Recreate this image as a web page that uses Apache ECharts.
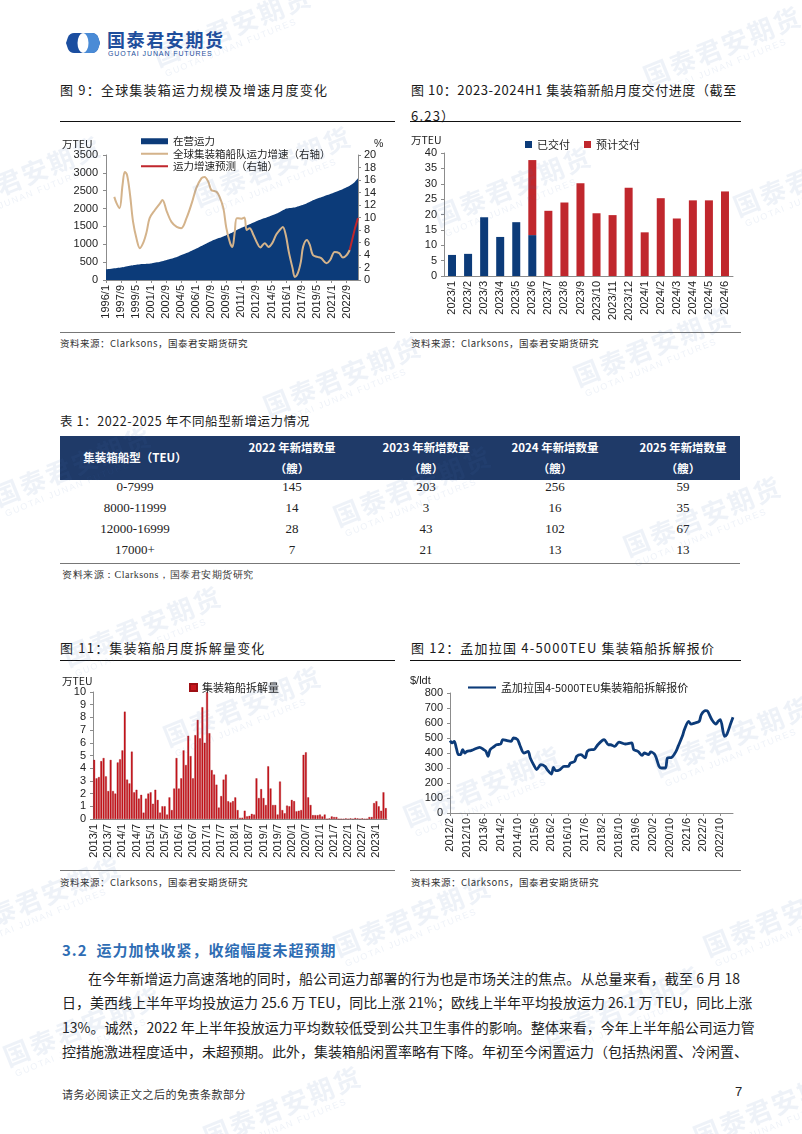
<!DOCTYPE html>
<html><head><meta charset="utf-8">
<script src="https://cdn.jsdelivr.net/npm/echarts@6/dist/echarts.min.js"></script>
<style>
body{margin:0;background:#fff;}
#page{position:relative;width:802px;height:1134px;overflow:hidden;background:#fff;font-family:"Noto Sans CJK SC","Noto Sans",sans-serif;color:#1a1a1a;}
.abs{position:absolute;white-space:nowrap;}
.title{font-size:13px;letter-spacing:1.2px;line-height:16px;}
.rule{position:absolute;height:1px;background:#111;}
.srule{position:absolute;height:1px;background:#777;}
.src{position:absolute;font-size:9.5px;color:#333;letter-spacing:0.5px;white-space:nowrap;}
.chart{position:absolute;}
.th{position:absolute;color:#fff;font-weight:bold;font-size:11.5px;text-align:center;width:140px;white-space:nowrap;}
.td{position:absolute;font-family:"Liberation Serif","Times New Roman",serif;font-size:13px;color:#222;text-align:center;width:120px;}
.para{position:absolute;left:62px;width:678px;font-size:14px;line-height:18px;text-align:justify;text-align-last:justify;color:#222;white-space:nowrap;}
#wm{position:absolute;left:0;top:0;width:802px;height:1134px;pointer-events:none;z-index:5;}
.wmk{position:absolute;transform:rotate(-22deg);color:rgba(70,115,180,0.09);white-space:nowrap;}
.wmk b{font-size:26px;letter-spacing:2px;display:block;line-height:30px;}
.wmk i{font-style:normal;font-size:9px;letter-spacing:1.5px;display:block;line-height:10px;padding-left:4px;font-family:'Liberation Sans',Arial;}
</style></head>
<body><div id="page">

<!-- header logo -->
<svg class="abs" style="left:65px;top:32px" width="36" height="22" viewBox="0 0 36 22">
  <path d="M9,1 H27 Q31,1 33,5 L35,11 L33,17 Q31,21 27,21 H9 Q5,21 3,17 L1,11 L3,5 Q5,1 9,1Z" fill="#1B4EA0"/>
  <path d="M18,1 H27 Q31,1 33,5 L35,11 L33,17 Q31,21 27,21 H18Z" fill="#4A8BD6"/>
  <ellipse cx="18" cy="11" rx="5.5" ry="10" fill="#fff"/>
</svg>
<div class="abs" style="left:107px;top:29px;font-size:18px;font-weight:bold;color:#1E4E9C;letter-spacing:1.6px;line-height:20px;">国泰君安期货</div>
<div class="abs" style="left:108px;top:50px;font-size:7px;color:#1E4E9C;letter-spacing:0.9px;line-height:8px;font-family:'Liberation Sans',Arial;">GUOTAI JUNAN FUTURES</div>

<!-- chart titles -->
<div class="abs title" style="left:60px;top:82px;">图 9：全球集装箱运力规模及增速月度变化</div>
<div class="abs title" style="left:411px;top:82px;letter-spacing:0.6px;">图 10：2023-2024H1 集装箱新船月度交付进度（截至</div>
<div class="abs title" style="left:411px;top:108px;">6.23）</div>
<div class="rule" style="left:60px;top:121px;width:335px;"></div>
<div class="rule" style="left:410px;top:121px;width:331px;"></div>

<div id="c9" class="chart" style="left:60px;top:125px;width:340px;height:205px;"></div>
<div id="c10" class="chart" style="left:405px;top:125px;width:340px;height:205px;"></div>

<div class="srule" style="left:60px;top:332px;width:335px;"></div>
<div class="srule" style="left:410px;top:332px;width:331px;"></div>
<div class="src" style="left:60px;top:336px;">资料来源：Clarksons，国泰君安期货研究</div>
<div class="src" style="left:411px;top:336px;">资料来源：Clarksons，国泰君安期货研究</div>

<!-- table -->
<div class="abs title" style="left:60px;top:413px;font-size:12.5px;letter-spacing:0.6px;">表 1：2022-2025 年不同船型新增运力情况</div>

<!-- charts 11 12 -->
<div class="abs title" style="left:60px;top:640px;">图 11：集装箱船月度拆解量变化</div>
<div class="abs title" style="left:411px;top:640px;">图 12：孟加拉国 4-5000TEU 集装箱船拆解报价</div>
<div class="rule" style="left:60px;top:660px;width:335px;"></div>
<div class="rule" style="left:410px;top:660px;width:331px;"></div>

<div id="c11" class="chart" style="left:60px;top:665px;width:340px;height:205px;"></div>
<div id="c12" class="chart" style="left:405px;top:665px;width:340px;height:205px;"></div>

<div class="srule" style="left:60px;top:870px;width:335px;"></div>
<div class="srule" style="left:410px;top:870px;width:331px;"></div>
<div class="src" style="left:60px;top:875px;">资料来源：Clarksons，国泰君安期货研究</div>
<div class="src" style="left:411px;top:875px;">资料来源：Clarksons，国泰君安期货研究</div>

<!-- text -->
<div class="abs" style="left:62px;top:940px;font-size:15px;font-weight:bold;color:#2E6DB4;letter-spacing:1px;line-height:20px;">3.2&nbsp;&nbsp;运力加快收紧，收缩幅度未超预期</div>
<div class="para" style="top:969px;left:88px;width:652px;">在今年新增运力高速落地的同时，船公司运力部署的行为也是市场关注的焦点。从总量来看，截至 6 月 18</div>
<div class="para" style="top:993px;">日，美西线上半年平均投放运力 25.6 万 TEU，同比上涨 21%；欧线上半年平均投放运力 26.1 万 TEU，同比上涨</div>
<div class="para" style="top:1018px;">13%。诚然，2022 年上半年投放运力平均数较低受到公共卫生事件的影响。整体来看，今年上半年船公司运力管</div>
<div class="para" style="top:1042px;">控措施激进程度适中，未超预期。此外，集装箱船闲置率略有下降。年初至今闲置运力（包括热闲置、冷闲置、</div>

<div class="abs" style="left:62px;top:1086px;font-size:11px;color:#333;letter-spacing:0.5px;">请务必阅读正文之后的免责条款部分</div>
<div class="abs" style="left:735px;top:1084px;font-size:13px;color:#222;font-family:'Liberation Sans',Arial;">7</div>

<div id="wm"></div>
</div>
<script>
// ---------- DATA ----------
function monthLabels(y, m, n) { const a = []; for (let i = 0; i < n; i++) { a.push(y + '/' + m); m++; if (m > 12) { m = 1; y++; } } return a; }

// Fig 9: months since 1996/1
const fig9Months = monthLabels(1996, 1, 336);
const fleetCapacity = [[0,300],[12,330],[24,365],[36,410],[48,445],[60,465],[72,510],[84,580],[96,660],[108,760],[120,880],[132,1010],[144,1130],[156,1220],[168,1330],[180,1460],[192,1570],[204,1680],[216,1770],[228,1870],[240,2000],[252,2040],[264,2120],[276,2240],[288,2330],[300,2420],[312,2520],[324,2640],[330,2730],[335,2850]];
const fleetGrowth = [[11,13.3],[14,12.3],[18,11.5],[22,15.2],[25,17.3],[28,16.8],[32,13.6],[36,9.3],[41,6.4],[45,5.1],[50,6.1],[54,7.7],[58,9.9],[65,11.2],[72,12.3],[75,12.8],[81,10.9],[87,9.3],[94,8.5],[100,8.3],[107,9.9],[114,12.3],[120,14.7],[127,16.3],[131,16.5],[136,15.7],[140,14.4],[147,14.1],[151,13.3],[156,11.5],[160,8.3],[165,5.9],[168,5.3],[171,7.5],[174,9.9],[180,9.8],[184,10],[187,8],[191,8.3],[196,7.2],[201,5.9],[205,5.2],[211,5.9],[216,5.3],[221,5.9],[226,7.2],[231,8],[235,8.5],[239,7.2],[243,4.5],[248,1.9],[251,0.5],[255,1.1],[259,2.9],[262,5.3],[267,6.4],[271,5.6],[275,4],[281,3.7],[286,3.5],[293,2.7],[298,3.2],[304,4.5],[310,4.3],[315,3.6],[320,4],[324,4.8]];
const growthForecast = [[324,4.8],[328,6.8],[331,8.3],[335,9.9]];

// Fig 10
const fig10Months = ['2023/1','2023/2','2023/3','2023/4','2023/5','2023/6','2023/7','2023/8','2023/9','2023/10','2023/11','2023/12','2024/1','2024/2','2024/3','2024/4','2024/5','2024/6'];
const delivered = [6.85,7.2,19.1,12.7,17.5,13.3,'-','-','-','-','-','-','-','-','-','-','-','-'];
const expected = ['-','-','-','-','-',24.4,21.2,23.9,30.2,20.4,19.8,28.7,14.2,25.3,18.7,24.6,24.6,27.5];

// Table 1
const tableHeaders = ['2022 年新增数量', '2023 年新增数量', '2024 年新增数量', '2025 年新增数量'];
const shipSizes = ['0-7999', '8000-11999', '12000-16999', '17000+'];
const added2022 = [145, 14, 28, 7];
const added2023 = [203, 3, 43, 21];
const added2024 = [256, 16, 102, 13];
const added2025 = [59, 35, 67, 13];

// Fig 11: monthly from 2013/1
const fig11Months = monthLabels(2013, 1, 125);
const demolition = [4.65,3.2,3.3,4.55,4.8,3.35,2.2,4.65,2.2,2.0,4.45,4.7,5.4,8.45,3.1,2.8,5.3,2.1,2.3,1.6,1.9,0.5,1.6,2.0,2.1,1.2,2.3,1.5,0.5,1.0,1.0,0.35,1.7,0.7,2.4,4.8,2.4,3.2,5.4,4.25,6.55,4.95,3.2,6.6,7.8,6.35,8.8,6.0,10.0,6.75,3.85,3.5,2.7,0.9,1.8,3.1,3.5,1.4,1.3,1.4,1.7,0.7,0.1,0.1,0.65,0.2,0.25,0.4,0.35,3.2,1.65,2.35,1.65,1.1,4.15,2.4,1.1,1.1,0.35,2.95,0.7,0.45,1.05,1.0,1.5,1.4,0.6,0.65,0.7,5.05,5.25,1.7,1.1,0.3,0.3,0.3,0.35,0.2,0.35,0,0.05,0.2,0.15,0.15,0,0,0,0.05,0,0.05,0,0.08,0.05,0,0.05,0,0,0.15,0.15,1.25,1.4,1.0,0.65,2.1,0.85];

// Fig 12: monthly from 2012/2
const fig12Months = monthLabels(2012, 2, 135);
const scrapPrice = [[0,482],[1,467],[2,478],[3,433],[4,389],[5,389],[6,422],[7,400],[8,411],[10,416],[11,422],[13,433],[14,438],[16,422],[17,411],[18,378],[19,422],[21,444],[22,455],[24,460],[25,489],[27,482],[29,478],[30,500],[32,489],[33,455],[35,400],[37,411],[38,367],[40,311],[41,289],[43,322],[45,311],[46,289],[48,260],[49,304],[50,282],[52,289],[54,311],[56,311],[57,333],[59,344],[60,378],[62,389],[64,367],[65,411],[67,422],[68,422],[70,455],[72,482],[73,489],[75,455],[76,455],[78,444],[80,473],[83,460],[86,467],[87,422],[89,411],[91,384],[92,400],[94,389],[95,407],[97,389],[99,311],[100,300],[102,300],[103,367],[105,371],[107,411],[108,444],[110,511],[111,556],[113,611],[114,593],[116,600],[118,611],[119,656],[121,682],[122,678],[124,622],[126,593],[127,611],[128,622],[130,511],[131,522],[133,600],[134,638]];

// ---------- STYLE HELPERS ----------
const NAVY = '#0C3B79', RED = '#C0272D', BEIGE = '#D4B38B';
const LAT = "'Liberation Sans', Arial, sans-serif";
const CJK = "'Noto Sans CJK SC', sans-serif";
const LINE_ICON = 'path://M0,0H40V3H0Z';
const axisLine = { show: true, lineStyle: { color: '#8c8c8c', width: 1 } };
const tick = { show: true, length: 3, lineStyle: { color: '#8c8c8c' } };
const plain = v => String(v);
const lbl = { fontSize: 11, color: '#222', fontFamily: LAT };
const ylbl = (m) => Object.assign({}, lbl, { margin: m, formatter: plain });

function mk(id) { return echarts.init(document.getElementById(id), null, { renderer: 'canvas' }); }

// ---------- Fig 9 ----------
mk('c9').setOption({
  animation: false,
  grid: { left: 46, right: 42, top: 30, bottom: 50 },
  legend: {
    orient: 'vertical', left: 76, top: 6, itemWidth: 27, itemHeight: 6, itemGap: 2, symbolKeepAspect: true,
    textStyle: { fontSize: 10.5, fontFamily: CJK, color: '#222' },
    data: [{ name: '在营运力', icon: 'rect' }, { name: '全球集装箱船队运力增速（右轴）', icon: LINE_ICON }, { name: '运力增速预测（右轴）', icon: LINE_ICON }]
  },
  graphic: [
    { type: 'text', left: 2, top: 14, style: { text: '万TEU', font: "10.5px " + CJK, fill: '#222' } },
    { type: 'text', left: 314, top: 14, style: { text: '%', font: "10.5px " + LAT, fill: '#222' } }
  ],
  xAxis: {
    type: 'category', data: fig9Months, boundaryGap: false,
    axisLine: axisLine, axisTick: { show: true, interval: 19, length: 3, lineStyle: { color: '#8c8c8c' } },
    axisLabel: Object.assign({}, lbl, { rotate: 90, interval: 19, margin: 5 })
  },
  yAxis: [
    { type: 'value', min: 0, max: 3500, interval: 500, splitLine: { show: false }, axisLine: axisLine, axisTick: tick, axisLabel: ylbl(8) },
    { type: 'value', min: 0, max: 20, interval: 2, position: 'right', splitLine: { show: false }, axisLine: axisLine, axisTick: tick, axisLabel: ylbl(6) }
  ],
  series: [
    { name: '在营运力', type: 'line', data: fleetCapacity, symbol: 'none', smooth: 0.2, lineStyle: { width: 0 }, itemStyle: { color: NAVY }, areaStyle: { color: NAVY, opacity: 1 } },
    { name: '全球集装箱船队运力增速（右轴）', type: 'line', yAxisIndex: 1, data: fleetGrowth, symbol: 'none', smooth: 0.35, lineStyle: { color: BEIGE, width: 2 }, itemStyle: { color: BEIGE } },
    { name: '运力增速预测（右轴）', type: 'line', yAxisIndex: 1, data: growthForecast, symbol: 'none', lineStyle: { color: RED, width: 2 }, itemStyle: { color: RED } }
  ]
});

// ---------- Fig 10 ----------
mk('c10').setOption({
  animation: false,
  grid: { left: 39, right: 12, top: 28, bottom: 54 },
  legend: {
    left: 115, top: 9, itemWidth: 7, itemHeight: 7, itemGap: 14, icon: 'rect',
    textStyle: { fontSize: 11, fontFamily: CJK, color: '#222' },
    data: ['已交付', '预计交付']
  },
  graphic: [{ type: 'text', left: 6, top: 10, style: { text: '万TEU', font: "10.5px " + CJK, fill: '#222' } }],
  xAxis: {
    type: 'category', data: fig10Months,
    axisLine: axisLine, axisTick: { show: false },
    axisLabel: Object.assign({}, lbl, { rotate: 90, interval: 0, margin: 5 })
  },
  yAxis: { type: 'value', min: 0, max: 40, interval: 5, splitLine: { show: false }, axisLine: axisLine, axisTick: tick, axisLabel: ylbl(7) },
  series: [
    { name: '已交付', type: 'bar', stack: 'd', data: delivered, barWidth: 8, itemStyle: { color: NAVY } },
    { name: '预计交付', type: 'bar', stack: 'd', data: expected, barWidth: 8, itemStyle: { color: RED } }
  ]
});

// ---------- Fig 11 ----------
mk('c11').setOption({
  animation: false,
  grid: { left: 33, right: 13, top: 27, bottom: 51 },
  legend: {
    left: 124, top: 12, itemWidth: 7, itemHeight: 7, icon: 'rect',
    textStyle: { fontSize: 11, fontFamily: CJK, color: '#222' },
    data: ['集装箱船拆解量']
  },
  graphic: [{ type: 'text', left: 2, top: 11, style: { text: '万TEU', font: "10.5px " + CJK, fill: '#222' } }],
  xAxis: {
    type: 'category', data: fig11Months,
    axisLine: axisLine, axisTick: { show: false },
    axisLabel: Object.assign({}, lbl, { rotate: 90, interval: 5, margin: 5 })
  },
  yAxis: { type: 'value', min: 0, max: 10, interval: 1, splitLine: { show: false }, axisLine: axisLine, axisTick: tick, axisLabel: ylbl(7) },
  series: [
    { name: '集装箱船拆解量', type: 'bar', data: demolition, barCategoryGap: '22%', itemStyle: { color: '#C8161D', borderColor: '#9E0F14', borderWidth: 0.3 } }
  ]
});

// ---------- Fig 12 ----------
mk('c12').setOption({
  animation: false,
  grid: { left: 45, right: 12, top: 28, bottom: 57 },
  legend: {
    left: 58, top: 12, itemWidth: 28, itemHeight: 8, symbolKeepAspect: true,
    textStyle: { fontSize: 11, fontFamily: CJK, color: '#222' },
    data: [{ name: '孟加拉国4-5000TEU集装箱船拆解报价', icon: LINE_ICON }]
  },
  graphic: [{ type: 'text', left: 5, top: 10, style: { text: '$/ldt', font: "11px " + LAT, fill: '#222' } }],
  xAxis: {
    type: 'category', data: fig12Months, boundaryGap: false,
    axisLine: axisLine, axisTick: { show: true, interval: 7, length: 3, lineStyle: { color: '#8c8c8c' } },
    axisLabel: Object.assign({}, lbl, { rotate: 90, interval: 7, margin: 5 })
  },
  yAxis: { type: 'value', min: 0, max: 800, interval: 100, splitLine: { show: false }, axisLine: axisLine, axisTick: tick, axisLabel: ylbl(7) },
  series: [
    { name: '孟加拉国4-5000TEU集装箱船拆解报价', type: 'line', data: scrapPrice, symbol: 'none', smooth: 0.3, lineStyle: { color: NAVY, width: 2.8 }, itemStyle: { color: NAVY } }
  ]
});

// ---------- Table ----------
(function () {
  const page = document.getElementById('page');
  const add = (html) => page.insertAdjacentHTML('beforeend', html);
  add('<div class="abs" style="left:60px;top:436px;width:680px;height:44px;background:#1F3A68;"></div>');
  add('<div class="th" style="left:65px;top:449px;">集装箱船型（TEU）</div>');
  const centers = [292, 426, 555, 683];
  tableHeaders.forEach((h, i) => {
    add('<div class="th" style="left:' + (centers[i] - 70) + 'px;top:439px;">' + h + '</div>');
    add('<div class="th" style="left:' + (centers[i] - 70) + 'px;top:460px;">（艘）</div>');
  });
  const cols = [added2022, added2023, added2024, added2025];
  const rowTops = [479, 500, 521, 542];
  shipSizes.forEach((s, r) => {
    add('<div class="td" style="left:75px;top:' + rowTops[r] + 'px;">' + s + '</div>');
    cols.forEach((c, i) => {
      add('<div class="td" style="left:' + (centers[i] - 60) + 'px;top:' + rowTops[r] + 'px;">' + c[r] + '</div>');
    });
  });
  add('<div class="srule" style="left:60px;top:563px;width:680px;"></div>');
  add('<div class="src" style="left:62px;top:568px;font-family:\'Liberation Serif\',serif;font-size:10px;">资料来源：Clarksons，国泰君安期货研究</div>');
})();

// ---------- faint background watermarks ----------
(function () {
  const wm = document.getElementById('wm');
  const spots = [[150,10],[640,30],[190,150],[430,170],[730,160],[-60,160],[260,360],[570,330],[-10,450],[330,470],[620,500],[60,610],[160,690],[650,720],[400,770],[-40,880],[330,900],[700,900],[540,990],[0,1010],[200,1090],[690,1090]];
  spots.forEach(p => {
    wm.insertAdjacentHTML('beforeend', '<div class="wmk" style="left:' + p[0] + 'px;top:' + p[1] + 'px;"><b>国泰君安期货</b><i>GUOTAI JUNAN FUTURES</i></div>');
  });
})();
</script>
</body></html>
